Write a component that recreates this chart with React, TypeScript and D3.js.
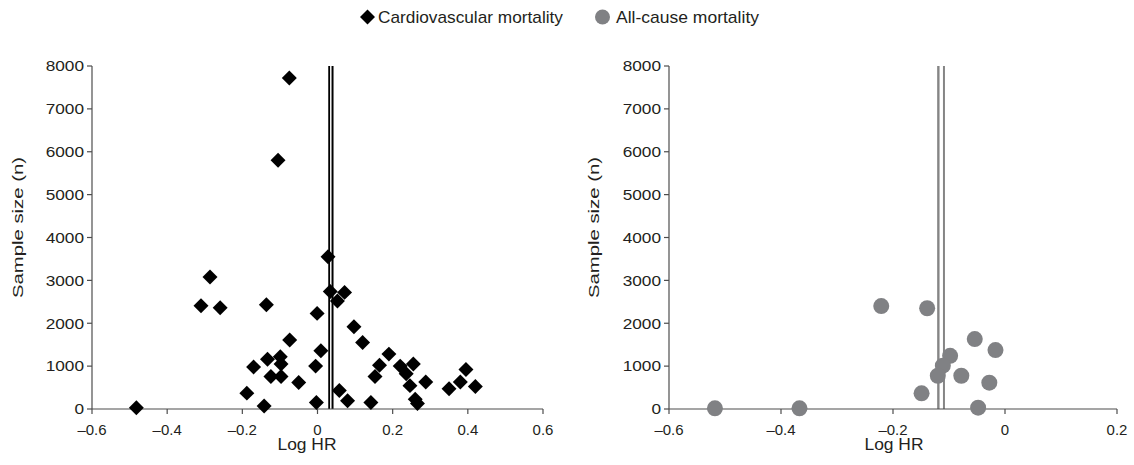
import React from "react";
import * as d3 from "d3";

// Cardiovascular mortality: log hazard ratio vs sample size per study
const CV_LOGHR = [
  -0.482, -0.286, -0.31, -0.259, -0.136, -0.075, -0.105, -0.001, 0.028, 0.034,
  0.072, 0.053, -0.074, 0.009, -0.005, -0.099, -0.133, -0.097, -0.17, -0.124,
  -0.097, -0.05, -0.188, -0.142, -0.003, 0.058, 0.08, 0.097, 0.12, 0.19,
  0.165, 0.153, 0.22, 0.255, 0.236, 0.246, 0.288, 0.26, 0.266, 0.142,
  0.35, 0.38, 0.395, 0.42,
];
const CV_N = [
  30, 3080, 2410, 2360, 2430, 7720, 5800, 2230, 3550, 2740,
  2720, 2520, 1610, 1360, 1000, 1220, 1160, 1050, 980, 760,
  760, 620, 370, 70, 150, 430, 190, 1920, 1550, 1280,
  1020, 760, 1000, 1050, 820, 545, 630, 230, 130, 150,
  470, 630, 920, 525,
];

// All-cause mortality
const AC_LOGHR = [
  -0.518, -0.367, -0.221, -0.139, -0.149, -0.054, -0.017, -0.098, -0.111,
  -0.12, -0.078, -0.028, -0.048,
];
const AC_N = [16, 16, 2400, 2350, 366, 1630, 1375, 1240, 1010, 776, 776, 613, 30];

// Pooled estimates drawn as vertical reference lines (two per panel)
const CV_POOLED = [0.031, 0.04];
const AC_POOLED = [-0.119, -0.109];

const CV_XTICKS = [-0.6, -0.4, -0.2, 0, 0.2, 0.4, 0.6];
const AC_XTICKS = [-0.6, -0.4, -0.2, 0, 0.2];
const Y_TICKS = [0, 1000, 2000, 3000, 4000, 5000, 6000, 7000, 8000];

const LEGEND = ["Cardiovascular mortality", "All-cause mortality"];
const X_TITLE = "Log HR";
const Y_TITLE = "Sample size (n)";

const FONT = "'Liberation Sans', Arial, Helvetica, sans-serif";
const AXIS = "#4d4d4d";
const INK = "#231f20";
const GREY = "#808184";

const fmtX = (v: number) => {
  if (Math.abs(v) < 1e-9) return "0";
  const s = d3.format(".1f")(Math.abs(v));
  return v < 0 ? "\u2013" + s : s;
};

const yScale = d3.scaleLinear().domain([0, 8000]).range([409, 66]);

const diamond = d3.symbol(d3.symbolSquare, 112)()!;
const circle = d3.symbol(d3.symbolCircle, 201)()!;

type PanelProps = {
  x0: number;
  x1: number;
  domain: [number, number];
  ticks: number[];
  xs: number[];
  ns: number[];
  pooled: number[];
  pooledColor: string;
  pooledWidths: number[];
  kind: "diamond" | "circle";
  titleX: number;
  yTitleX: number;
};

function Panel(p: PanelProps) {
  const x = d3.scaleLinear().domain(p.domain).range([p.x0, p.x1]);
  const y = yScale;
  const y0 = y(0);
  return (
    <g>
      {/* pooled estimate lines */}
      {p.pooled.map((v, i) => (
        <line
          key={"p" + i}
          x1={x(v)}
          x2={x(v)}
          y1={y(8000)}
          y2={y0}
          stroke={p.pooledColor}
          strokeWidth={p.pooledWidths[i]}
        />
      ))}
      {/* axes */}
      <line x1={p.x0} x2={p.x0} y1={y(8000)} y2={y0} stroke={AXIS} strokeWidth={1.2} />
      <line x1={p.x0} x2={p.x1} y1={y0} y2={y0} stroke={AXIS} strokeWidth={1.2} />
      {Y_TICKS.map((t) => (
        <g key={"y" + t}>
          <line x1={p.x0 - 5} x2={p.x0} y1={y(t)} y2={y(t)} stroke={AXIS} strokeWidth={1.2} />
          <text
            transform={`translate(${p.x0 - 8},${y(t)}) scale(1.15,1)`}
            dy="0.35em"
            textAnchor="end"
            fontSize={15}
            fill={INK}
          >
            {t}
          </text>
        </g>
      ))}
      {p.ticks.map((t) => (
        <g key={"x" + t}>
          <line x1={x(t)} x2={x(t)} y1={y0} y2={y0 + 5} stroke={AXIS} strokeWidth={1.2} />
          <text x={x(t)} y={435} textAnchor="middle" fontSize={15} fill={INK}>
            {fmtX(t)}
          </text>
        </g>
      ))}
      <text
        x={p.titleX - 29.5}
        y={450}
        fontSize={16}
        textLength={59}
        lengthAdjust="spacingAndGlyphs"
        fill={INK}
      >
        {X_TITLE}
      </text>
      <text
        transform={`translate(${p.yTitleX},298) rotate(-90)`}
        fontSize={15}
        textLength={141}
        lengthAdjust="spacingAndGlyphs"
        fill={INK}
      >
        {Y_TITLE}
      </text>
      {/* study markers */}
      {p.xs.map((v, i) =>
        p.kind === "diamond" ? (
          <path
            key={"m" + i}
            d={diamond}
            transform={`translate(${x(v)},${y(p.ns[i])}) rotate(45)`}
            fill="#000"
          />
        ) : (
          <path
            key={"m" + i}
            d={circle}
            transform={`translate(${x(v)},${y(p.ns[i])})`}
            fill={GREY}
          />
        )
      )}
    </g>
  );
}

export default function App() {
  return (
    <div style={{ position: "fixed", left: 0, top: 0 }}>
      <svg width={1134} height={465} fontFamily={FONT} style={{ display: "block", background: "#fff" }}>
        {/* legend */}
        <path d={diamond} transform="translate(367.5,17) rotate(45)" fill="#000" />
        <text x={378} y={23} fontSize={17} textLength={185} lengthAdjust="spacingAndGlyphs" fill={INK}>
          {LEGEND[0]}
        </text>
        <circle cx={602.5} cy={17} r={7.5} fill={GREY} />
        <text x={616} y={23} fontSize={17} textLength={143} lengthAdjust="spacingAndGlyphs" fill={INK}>
          {LEGEND[1]}
        </text>

        <Panel
          x0={92}
          x1={543}
          domain={[-0.6, 0.6]}
          ticks={CV_XTICKS}
          xs={CV_LOGHR}
          ns={CV_N}
          pooled={CV_POOLED}
          pooledColor="#000"
          pooledWidths={[1.8, 2]}
          kind="diamond"
          titleX={307}
          yTitleX={23}
        />
        <Panel
          x0={669}
          x1={1117}
          domain={[-0.6, 0.2]}
          ticks={AC_XTICKS}
          xs={AC_LOGHR}
          ns={AC_N}
          pooled={AC_POOLED}
          pooledColor="#858585"
          pooledWidths={[2.4, 2]}
          kind="circle"
          titleX={894}
          yTitleX={599}
        />
      </svg>
    </div>
  );
}
